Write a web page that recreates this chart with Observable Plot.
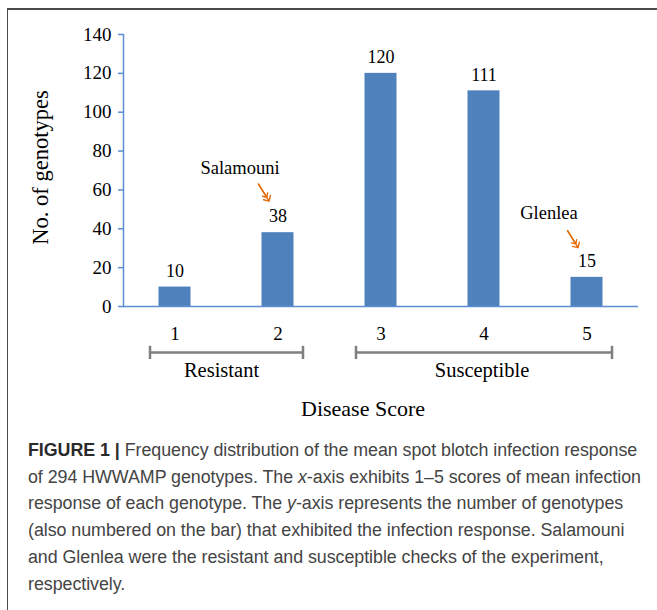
<!DOCTYPE html>
<html>
<head>
<meta charset="utf-8">
<script src="https://cdn.jsdelivr.net/npm/d3@7"></script>
<script src="https://cdn.jsdelivr.net/npm/@observablehq/plot@0.6"></script>
<style>
  html, body { margin: 0; padding: 0; background: #fff; width: 657px; height: 610px; overflow: hidden; }
  #frame { position: absolute; left: 7px; top: 8px; width: 700px; height: 700px;
           border-top: 2px solid #4a4a4a; border-left: 1.5px solid #4a4a4a; }
  #chart { position: absolute; left: 0; top: 0; }
  #caption { position: absolute; left: 28px; top: 437px; width: 640px;
             font-family: "Liberation Sans", Arial, sans-serif; font-size: 17.85px;
             line-height: 26.7px; color: #444; white-space: nowrap; letter-spacing: -0.05px; }
  #caption b { color: #2a2a2a; }
</style>
</head>
<body>
<div id="frame"></div>
<div id="chart"></div>
<div id="caption"></div>
<script>
// ---- data ----
const scores = ["1", "2", "3", "4", "5"];
const counts = [10, 38, 120, 111, 15];
const yTicks = [0, 20, 40, 60, 80, 100, 120, 140];

const groupNames = ["Resistant", "Susceptible"];
const groupStart = ["1", "3"];
const groupEnd = ["2", "5"];

const checkNames = ["Salamouni", "Glenlea"];
const checkScores = ["2", "5"];
const checkLabelY = [71, 48];
const checkArrowY = [63, 39];

const captionLines = [
  "<b>FIGURE 1 |</b> Frequency distribution of the mean spot blotch infection response",
  "of 294 HWWAMP genotypes. The <i>x</i>-axis exhibits 1–5 scores of mean infection",
  "response of each genotype. The <i>y</i>-axis represents the number of genotypes",
  "(also numbered on the bar) that exhibited the infection response. Salamouni",
  "and Glenlea were the resistant and susceptible checks of the experiment,",
  "respectively."
];

// ---- tables ----
const bars = scores.map((s, i) => ({score: s, count: counts[i]}));
const groups = groupNames.map((g, i) => ({name: g, start: groupStart[i], end: groupEnd[i],
  mid: (scores.indexOf(groupStart[i]) + scores.indexOf(groupEnd[i])) / 2}));
const checks = checkNames.map((n, i) => ({name: n, score: checkScores[i], ly: checkLabelY[i], ay: checkArrowY[i]}));

const W = 657, H = 425, mL = 123, mR = 19, mT = 34, mB = 119;
const bw = (W - mL - mR) / scores.length;
const blue = "#4f81bd";
const axisBlue = "#5b8ed3";
const orange = "#e46c0a";
const serif = "Liberation Serif";

const midGroups = groups.filter(g => Number.isInteger(g.mid));
const halfGroups = groups.filter(g => !Number.isInteger(g.mid));

const chart = Plot.plot({
  width: W, height: H,
  marginLeft: mL, marginRight: mR, marginTop: mT, marginBottom: mB,
  style: {fontFamily: serif, fontSize: "19px", color: "#000", background: "transparent", overflow: "visible"},
  x: {domain: scores, padding: 0, axis: null},
  y: {domain: [0, 140], axis: null},
  marks: [
    Plot.barY(bars, {x: "score", y: "count", fill: blue, insetLeft: 35.5, insetRight: 35.5}),
    Plot.frame({anchor: "left", stroke: axisBlue, strokeWidth: 1.5}),
    Plot.ruleY([0], {stroke: axisBlue, strokeWidth: 1.5}),
    Plot.axisY({ticks: yTicks, tickSize: 5, tickPadding: 7, stroke: axisBlue, fill: "#000",
                strokeWidth: 1.5, label: null, fontSize: 19}),
    Plot.axisX({tickSize: 0, tickPadding: 20, fill: "#000", label: null, fontSize: 19}),
    Plot.text(bars, {x: "score", y: "count", text: d => String(d.count), dy: -16,
                     fontSize: 18, lineAnchor: "middle", fill: "#000"}),
    // category brackets
    Plot.ruleY(groups, {x1: "start", x2: "end", y: -23.7, stroke: "#7f7f7f", strokeWidth: 2.5,
                        insetLeft: bw / 2 - 25, insetRight: bw / 2 - 25}),
    Plot.ruleX(groups, {x: "start", y1: -20.5, y2: -27.3, dx: -25, stroke: "#7f7f7f", strokeWidth: 2.5}),
    Plot.ruleX(groups, {x: "end", y1: -20.5, y2: -27.3, dx: 25, stroke: "#7f7f7f", strokeWidth: 2.5}),
    Plot.text(midGroups, {x: d => scores[d.mid], y: -33, text: "name", fontSize: 20.5,
                          lineAnchor: "middle", fill: "#000", dx: -2}),
    Plot.text(halfGroups, {x: d => scores[Math.floor(d.mid)], y: -33, text: "name", fontSize: 20.5,
                           lineAnchor: "middle", fill: "#000", dx: bw / 2 - 5}),
    // check annotations
    Plot.text(checks, {x: "score", y: "ly", text: "name", dx: -38, fontSize: 18.5,
                       lineAnchor: "middle", fill: "#000"}),
    Plot.vector(checks, {x: "score", y: "ay", dx: -19.5, length: 20, rotate: 148, anchor: "start",
                         stroke: orange, strokeWidth: 1.4}),
    Plot.vector(checks, {x: "score", y: "ay", dx: -19.5, length: 15.5, rotate: 148, anchor: "start",
                         stroke: orange, strokeWidth: 1.4}),
    // axis titles
    Plot.text(["No. of genotypes"], {frameAnchor: "left", textAnchor: "middle", rotate: -90, dx: -83, dy: -3,
                                     fontSize: 22.5, lineAnchor: "middle", fill: "#000"}),
    Plot.text(["Disease Score"], {frameAnchor: "bottom", dx: -18, dy: 102,
                                  fontSize: 22, lineAnchor: "middle", fill: "#000"})
  ]
});
document.getElementById("chart").appendChild(chart);
document.getElementById("caption").innerHTML = captionLines.join("<br>");
</script>
</body>
</html>
